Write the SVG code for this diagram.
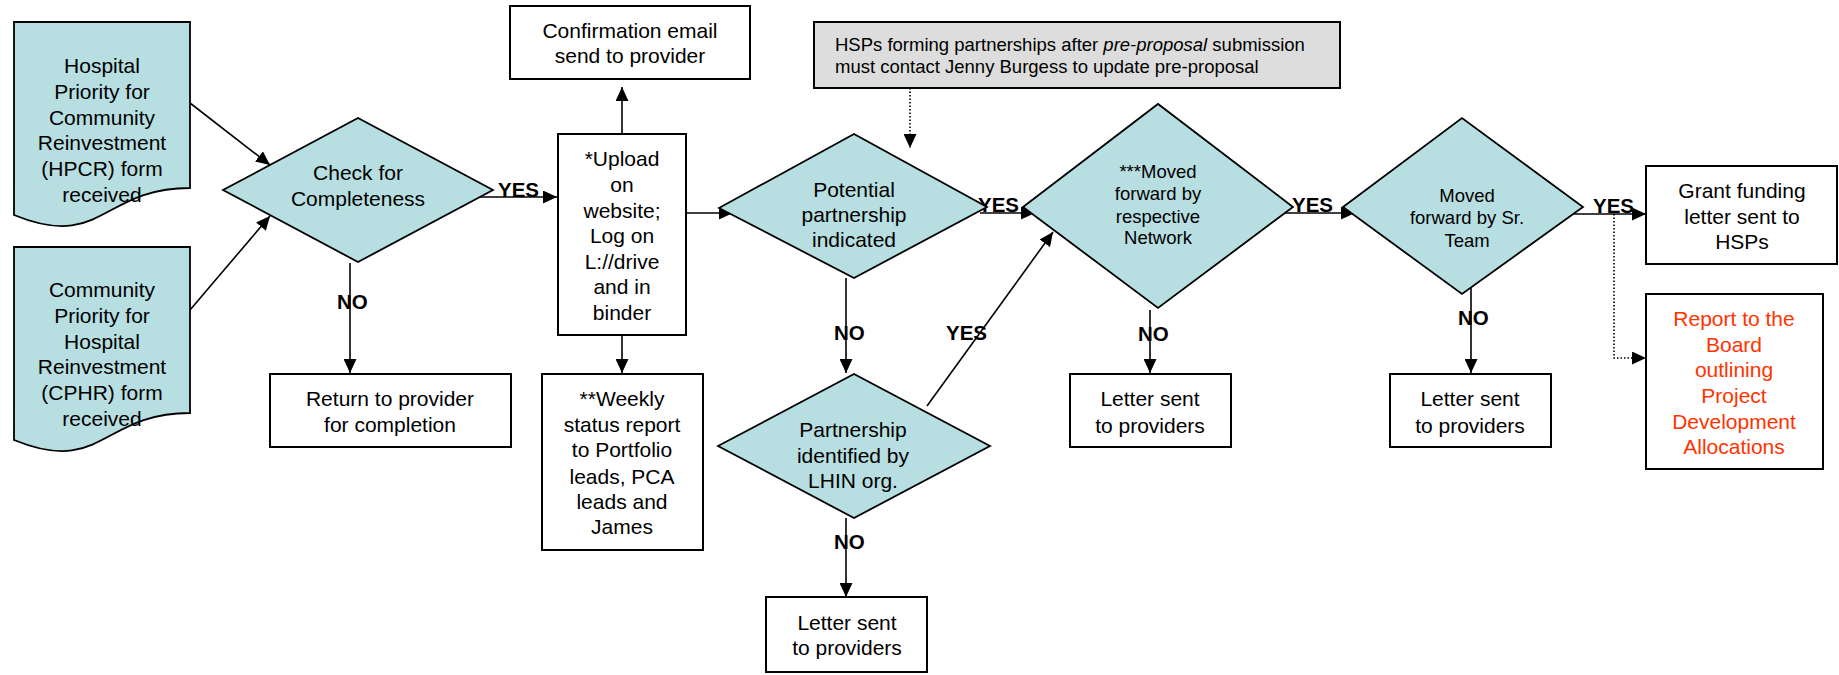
<svg xmlns="http://www.w3.org/2000/svg" width="1839" height="675" viewBox="0 0 1839 675">
<defs>
<marker id="ah" markerUnits="userSpaceOnUse" markerWidth="15" markerHeight="13" refX="14" refY="6.5" orient="auto"><path d="M0,0 L14,6.5 L0,13 z" fill="#000"/></marker>
<style>
.t{font-family:"Liberation Sans",Arial,sans-serif;font-size:21px;fill:#000;text-anchor:middle}
.s{font-size:18.5px}
.red{fill:#FF3300}
.lbl{font-family:"Liberation Sans",Arial,sans-serif;font-size:20.5px;font-weight:bold;fill:#000}
.box{fill:#fff;stroke:#000;stroke-width:2}
.dia{fill:#B7DEE1;stroke:#000;stroke-width:1.8}
.gray{fill:#DDDDDD;stroke:#000;stroke-width:2}
.c{fill:none;stroke:#000;stroke-width:1.6}
.d{fill:none;stroke:#000;stroke-width:1.6;stroke-dasharray:1.5 2}
</style>
</defs>
<rect width="1839" height="675" fill="#fff"/>

<g id="connectors">
<line class="c" x1="190" y1="103" x2="270" y2="165" marker-end="url(#ah)"/>
<line class="c" x1="190" y1="310" x2="270" y2="216" marker-end="url(#ah)"/>
<line class="c" x1="480" y1="197" x2="557" y2="197" marker-end="url(#ah)"/>
<line class="c" x1="350" y1="263" x2="350" y2="373" marker-end="url(#ah)"/>
<line class="c" x1="622" y1="134" x2="622" y2="87" marker-end="url(#ah)"/>
<line class="c" x1="622" y1="327" x2="622" y2="373" marker-end="url(#ah)"/>
<line class="c" x1="686" y1="213" x2="733" y2="213" marker-end="url(#ah)"/>
<line class="d" x1="910" y1="88" x2="910" y2="148" marker-end="url(#ah)"/>
<line class="c" x1="846" y1="278" x2="846" y2="373" marker-end="url(#ah)"/>
<line class="c" x1="846" y1="518" x2="846" y2="597" marker-end="url(#ah)"/>
<line class="c" x1="927" y1="406" x2="1053" y2="232" marker-end="url(#ah)"/>
<line class="c" x1="980" y1="213" x2="1035" y2="213" marker-end="url(#ah)"/>
<line class="c" x1="1283" y1="213" x2="1355" y2="213" marker-end="url(#ah)"/>
<line class="c" x1="1150" y1="310" x2="1150" y2="373" marker-end="url(#ah)"/>
<line class="c" x1="1567" y1="214" x2="1646" y2="214" marker-end="url(#ah)"/>
<line class="c" x1="1471" y1="278" x2="1471" y2="373" marker-end="url(#ah)"/>
<polyline class="d" points="1614,214 1614,358 1646,358" marker-end="url(#ah)"/>
<text class="lbl" x="498" y="197">YES</text>
<text class="lbl" x="337" y="309">NO</text>
<text class="lbl" x="978" y="212">YES</text>
<text class="lbl" x="834" y="340">NO</text>
<text class="lbl" x="946" y="340">YES</text>
<text class="lbl" x="834" y="549">NO</text>
<text class="lbl" x="1292" y="212">YES</text>
<text class="lbl" x="1138" y="341">NO</text>
<text class="lbl" x="1593" y="213">YES</text>
<text class="lbl" x="1458" y="325">NO</text>
</g>

<g id="hpcr">
<path class="dia" d="M14,22 H190 V188 C102,188 102,251 14,215 Z"/>
<text class="t" x="102" y="73">Hospital</text>
<text class="t" x="102" y="99">Priority for</text>
<text class="t" x="102" y="125">Community</text>
<text class="t" x="102" y="150">Reinvestment</text>
<text class="t" x="102" y="176">(HPCR) form</text>
<text class="t" x="102" y="202">received</text>
</g>

<g id="cphr">
<path class="dia" d="M14,247 H190 V413 C102,413 102,476 14,440 Z"/>
<text class="t" x="102" y="297">Community</text>
<text class="t" x="102" y="323">Priority for</text>
<text class="t" x="102" y="349">Hospital</text>
<text class="t" x="102" y="374">Reinvestment</text>
<text class="t" x="102" y="400">(CPHR) form</text>
<text class="t" x="102" y="426">received</text>
</g>

<g id="check">
<polygon class="dia" points="223,190 358,118 493,190 358,262"/>
<text class="t" x="358" y="180">Check for</text>
<text class="t" x="358" y="206">Completeness</text>
</g>

<g id="return">
<rect class="box" x="270" y="374" width="241" height="73"/>
<text class="t" x="390" y="406">Return to provider</text>
<text class="t" x="390" y="432">for completion</text>
</g>

<g id="confirmation">
<rect class="box" x="510" y="6" width="240" height="73"/>
<text class="t" x="630" y="38">Confirmation email</text>
<text class="t" x="630" y="63">send to provider</text>
</g>

<g id="upload">
<rect class="box" x="558" y="134" width="128" height="201"/>
<text class="t" x="622" y="166">*Upload</text>
<text class="t" x="622" y="192">on</text>
<text class="t" x="622" y="218">website;</text>
<text class="t" x="622" y="243">Log on</text>
<text class="t" x="622" y="269">L://drive</text>
<text class="t" x="622" y="294">and in</text>
<text class="t" x="622" y="320">binder</text>
</g>

<g id="weekly">
<rect class="box" x="542" y="374" width="161" height="176"/>
<text class="t" x="622" y="406">**Weekly</text>
<text class="t" x="622" y="432">status report</text>
<text class="t" x="622" y="457">to Portfolio</text>
<text class="t" x="622" y="484">leads, PCA</text>
<text class="t" x="622" y="509">leads and</text>
<text class="t" x="622" y="534">James</text>
</g>

<g id="callout">
<rect class="gray" x="814" y="22" width="526" height="66"/>
<text class="t s" x="835" y="51" style="text-anchor:start">HSPs forming partnerships after <tspan font-style="italic">pre-proposal</tspan> submission</text>
<text class="t s" x="835" y="73" style="text-anchor:start">must contact Jenny Burgess to update pre-proposal</text>
</g>

<g id="potential">
<polygon class="dia" points="719,208 854,134 987,207 854,278"/>
<text class="t" x="854" y="197">Potential</text>
<text class="t" x="854" y="222">partnership</text>
<text class="t" x="854" y="247">indicated</text>
</g>

<g id="partnership">
<polygon class="dia" points="718,446 854,374 990,446 854,518"/>
<text class="t" x="853" y="437">Partnership</text>
<text class="t" x="853" y="463">identified by</text>
<text class="t" x="853" y="488">LHIN org.</text>
</g>

<g id="letter1">
<rect class="box" x="766" y="597" width="161" height="75"/>
<text class="t" x="847" y="630">Letter sent</text>
<text class="t" x="847" y="655">to providers</text>
</g>

<g id="network">
<polygon class="dia" points="1023,207 1158,104 1293,207 1158,308"/>
<text class="t s" x="1158" y="178">***Moved</text>
<text class="t s" x="1158" y="200">forward by</text>
<text class="t s" x="1158" y="223">respective</text>
<text class="t s" x="1158" y="244">Network</text>
</g>

<g id="letter2">
<rect class="box" x="1070" y="374" width="161" height="73"/>
<text class="t" x="1150" y="406">Letter sent</text>
<text class="t" x="1150" y="433">to providers</text>
</g>

<g id="srteam">
<polygon class="dia" points="1343,207 1462,118 1583,207 1462,294"/>
<text class="t s" x="1467" y="202">Moved</text>
<text class="t s" x="1467" y="224">forward by Sr.</text>
<text class="t s" x="1467" y="247">Team</text>
</g>

<g id="letter3">
<rect class="box" x="1390" y="374" width="161" height="73"/>
<text class="t" x="1470" y="406">Letter sent</text>
<text class="t" x="1470" y="433">to providers</text>
</g>

<g id="grant">
<rect class="box" x="1646" y="166" width="191" height="98"/>
<text class="t" x="1742" y="198">Grant funding</text>
<text class="t" x="1742" y="224">letter sent to</text>
<text class="t" x="1742" y="249">HSPs</text>
</g>

<g id="report">
<rect class="box" x="1646" y="294" width="177" height="175"/>
<text class="t red" x="1734" y="326">Report to the</text>
<text class="t red" x="1734" y="352">Board</text>
<text class="t red" x="1734" y="377">outlining</text>
<text class="t red" x="1734" y="403">Project</text>
<text class="t red" x="1734" y="429">Development</text>
<text class="t red" x="1734" y="454">Allocations</text>
</g>
</svg>
